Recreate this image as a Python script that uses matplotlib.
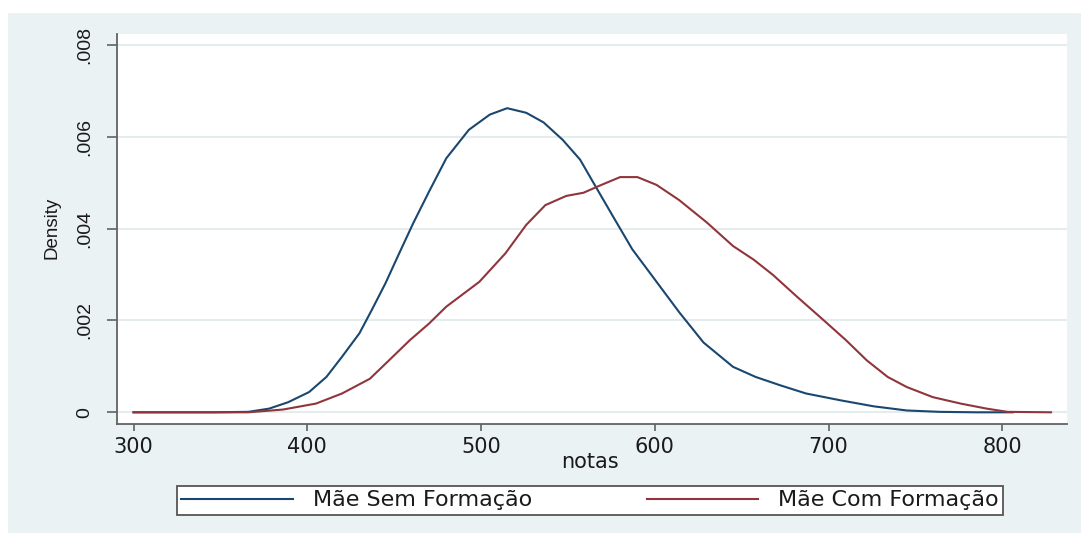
import matplotlib
matplotlib.use("Agg")
import matplotlib.pyplot as plt
from matplotlib.patches import Rectangle

# ---- data ----
notas_sem = [300, 345, 366, 378, 389, 401, 411, 420, 430, 437, 445, 453, 461, 470,
             480, 493, 505, 515, 526, 536, 547, 557, 566, 576, 587, 601, 614, 628,
             645, 658, 672, 687, 707, 726, 745, 764, 785, 806]
dens_sem = [0, 0, 0.00001, 0.00008, 0.00022, 0.00044, 0.00077, 0.00121, 0.00172,
            0.00222, 0.00281, 0.00347, 0.00412, 0.0048, 0.00553, 0.00615, 0.00648,
            0.00662, 0.00652, 0.00631, 0.00593, 0.0055, 0.00491, 0.00426, 0.00355,
            0.00284, 0.00218, 0.00152, 0.00099, 0.00077, 0.00059, 0.00041, 0.00026,
            0.00013, 0.00004, 0.00001, 0, 0]

notas_com = [300, 366, 386, 405, 420, 436, 447, 459, 470, 480, 499, 514, 526, 537,
             549, 559, 568, 580, 590, 601, 614, 630, 645, 657, 668, 682, 697, 710,
             722, 734, 745, 760, 776, 791, 803, 828]
dens_com = [0, 0, 0.00006, 0.00019, 0.00041, 0.00073, 0.00113, 0.00157, 0.00193,
            0.0023, 0.00284, 0.00346, 0.00408, 0.00451, 0.00471, 0.00478, 0.00493,
            0.00512, 0.00512, 0.00495, 0.00462, 0.00413, 0.00362, 0.00332, 0.00299,
            0.00251, 0.00201, 0.00157, 0.00113, 0.00077, 0.00055, 0.00033, 0.00019,
            0.00008, 0.00001, 0]

series_labels = ["Mãe Sem Formação", "Mãe Com Formação"]
xticks = [300, 400, 500, 600, 700, 800]
xtick_labels = ["300", "400", "500", "600", "700", "800"]
yticks = [0, 0.002, 0.004, 0.006, 0.008]
ytick_labels = ["0", ".002", ".004", ".006", ".008"]
x_label = "notas"
y_label = "Density"

# ---- styling ----
W, H = 1081, 533
BG = "#eaf2f3"
NAVY = "#1a476f"
MAROON = "#90353b"
AXC = "#5f6366"
TXT = "#1a1a1a"

fig = plt.figure(figsize=(W / 100, H / 100), dpi=100)
fig.patch.set_facecolor("white")
fig.add_artist(Rectangle((8 / W, 0), 1 - 8 / W, 1 - 13 / H, transform=fig.transFigure,
                         facecolor=BG, edgecolor="none", zorder=-5))

L, R, T, B = 116.5, 1067.0, 34.0, 424.3
ax = fig.add_axes([L / W, 1 - B / H, (R - L) / W, (B - T) / H])
ax.set_facecolor("white")

ax.plot(notas_sem, dens_sem, color=NAVY, lw=1.5, label=series_labels[0], zorder=3)
ax.plot(notas_com, dens_com, color=MAROON, lw=1.5, label=series_labels[1], zorder=4)

ax.set_xlim(290.2, 837.2)
ax.set_ylim(-0.000261, 0.008235)

for s in ["top", "right"]:
    ax.spines[s].set_visible(False)
for s in ["left", "bottom"]:
    ax.spines[s].set_color(AXC)
    ax.spines[s].set_linewidth(1.3)

ax.set_xticks(xticks)
ax.set_xticklabels(xtick_labels, fontsize=15, color=TXT, fontfamily="DejaVu Sans")
ax.set_yticks(yticks)
ax.set_yticklabels(ytick_labels, fontsize=14, color=TXT, fontfamily="Liberation Sans",
                   rotation=90, va="center", ha="right")
ax.tick_params(axis="x", length=5, width=1.2, color=AXC, pad=4.2)
ax.tick_params(axis="y", length=7.2, width=1.2, color=AXC, pad=9.2)

ax.yaxis.grid(True, color="#e4eced", lw=1.5)
ax.set_axisbelow(True)

ax.set_xlabel(x_label, fontsize=15, color=TXT, fontfamily="DejaVu Sans", va="center")
ax.xaxis.set_label_coords((590 - L) / (R - L), (B - 461.7) / (B - T))
ax.set_ylabel(y_label, fontsize=13.5, color=TXT, fontfamily="Liberation Sans", va="center")
ax.yaxis.set_label_coords((52 - L) / (R - L), (B - 228) / (B - T))

handles, labels = ax.get_legend_handles_labels()
leg = fig.legend(handles, labels, loc="center",
                 bbox_to_anchor=(177 / W, 1 - 518 / H, 826 / W, 35 / H),
                 mode="expand", ncol=2, handlelength=5.0,
                 handletextpad=0.9, borderpad=0.2, borderaxespad=0,
                 fancybox=False, framealpha=1, edgecolor="#555555",
                 prop={"family": "DejaVu Sans", "size": 16})
leg.get_frame().set_linewidth(1.3)
for t in leg.get_texts():
    t.set_color(TXT)

fig.savefig("out.png", dpi=100, facecolor=fig.get_facecolor())
